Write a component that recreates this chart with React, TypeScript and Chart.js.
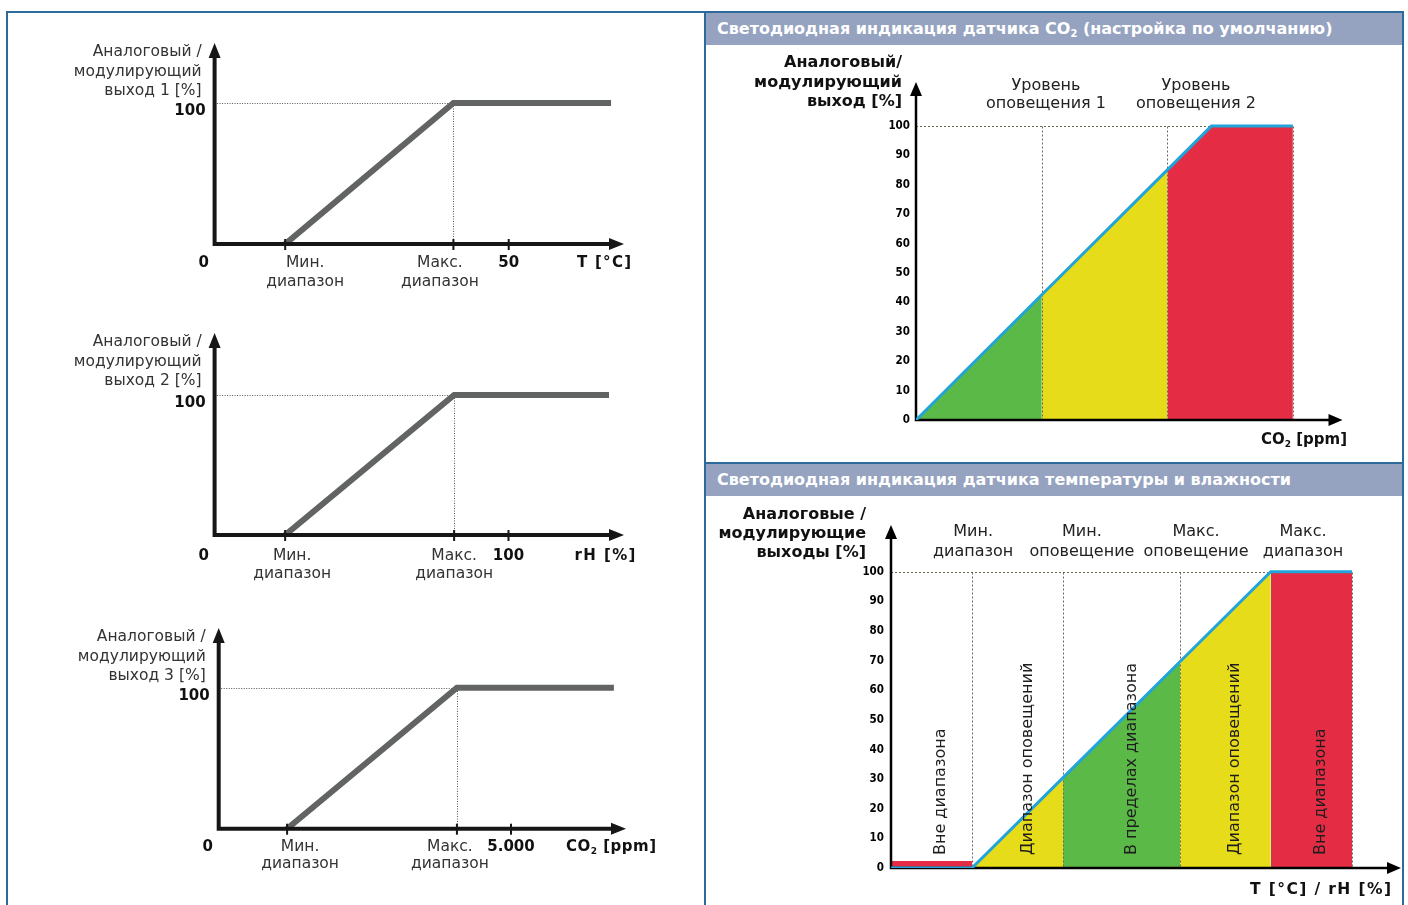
import React, { useEffect, useRef } from "react";
import { Chart, registerables } from "chart.js";

Chart.register(...registerables);

const SANS = '"DejaVu Sans", Verdana, sans-serif';
const COND = '"DejaVu Sans Condensed", "DejaVu Sans", sans-serif';

// ---------------- data ----------------
// Left column: analog / modulating outputs (min range, max range, end of line)
const OUTPUT_PERCENT = [0, 100, 100];
const T_POINTS = [12, 40.6, 67.4]; // °C
const RH_POINTS = [24, 81.5, 134.2]; // % rH
const CO2_POINTS = [1170, 4075, 6760]; // ppm
const T_SCALE_TICK = 50;
const RH_SCALE_TICK = 100;
const CO2_SCALE_TICK = 5000;
const OUTPUT_TITLES = [
  ["Аналоговый /", "модулирующий", "выход 1 [%]"],
  ["Аналоговый /", "модулирующий", "выход 2 [%]"],
  ["Аналоговый /", "модулирующий", "выход 3 [%]"],
];
const RANGE_LABELS = [
  ["Мин.", "диапазон"],
  ["Макс.", "диапазон"],
];

// Right top: CO2 LED indication (x: share of range, y: output %)
const CO2_LED_X = [0, 42.6, 85.1, 100, 127.6];
const CO2_LED_Y = [0, 42.6, 85.1, 100, 100];
const CO2_LED_ZONES = [
  [0, 1],
  [1, 2],
  [2, 4],
];
const CO2_LED_LEVEL_LABELS = [
  ["Уровень", "оповещения 1"],
  ["Уровень", "оповещения 2"],
];
const CO2_LED_LEVEL_AT = [44, 94.8];

// Right bottom: T / rH LED indication
const TH_LED_X = [0, 27.1, 57.6, 96.8, 127.1, 154.3];
const TH_LED_Y = [0, 0, 30.5, 69.7, 100, 100];
const TH_OUT_OF_RANGE_LEVEL = 2.4;
const TH_LED_ZONES = [
  [0, 1],
  [1, 2],
  [2, 3],
  [3, 4],
  [4, 5],
];
const TH_ZONE_LABELS = [
  "Вне диапазона",
  "Диапазон оповещений",
  "В пределах диапазона",
  "Диапазон оповещений",
  "Вне диапазона",
];
const TH_TOP_LABELS = [
  ["Мин.", "диапазон"],
  ["Мин.", "оповещение"],
  ["Макс.", "оповещение"],
  ["Макс.", "диапазон"],
];
const TH_TOP_AT = [27.5, 63.9, 102.1, 137.9];
const Y_TICK_STEP = 10;

// ---------------- styles ----------------
const GREEN = "#5bb947";
const YELLOW = "#e7dc19";
const RED = "#e42c45";
const BLUE = "#20a4da";
const LINE_GRAY = "#626363";
const FRAME = "#2c6a9c";
const HEADER_BG = "#95a3c1";
const GUIDE = "#6f6650";

type Box = { left: number; top: number; width: number; height: number };

// ---------- text helper (supports "_2" subscript) ----------
function drawRich(
  ctx: CanvasRenderingContext2D,
  text: string,
  x: number,
  y: number,
  size: number,
  opts: { bold?: boolean; align?: "left" | "center" | "right"; color?: string; family?: string; spacing?: number } = {}
) {
  const family = opts.family || SANS;
  const w = opts.bold ? "bold " : "";
  const segs: { t: string; sub?: boolean }[] = [];
  let buf = "";
  for (let i = 0; i < text.length; i++) {
    if (text[i] === "_" && i + 1 < text.length) {
      if (buf) segs.push({ t: buf });
      buf = "";
      segs.push({ t: text[i + 1], sub: true });
      i++;
    } else buf += text[i];
  }
  if (buf) segs.push({ t: buf });
  const mainFont = `${w}${size}px ${family}`;
  const subFont = `${w}${Math.round(size * 0.62)}px ${family}`;
  ctx.save();
  (ctx as any).letterSpacing = `${opts.spacing || 0}px`;
  let total = 0;
  const widths = segs.map((s) => {
    ctx.font = s.sub ? subFont : mainFont;
    const m = ctx.measureText(s.t).width;
    total += m;
    return m;
  });
  if (opts.spacing) total -= opts.spacing;
  let sx = opts.align === "center" ? x - total / 2 : opts.align === "right" ? x - total : x;
  ctx.fillStyle = opts.color || "#222";
  ctx.textAlign = "left";
  ctx.textBaseline = "middle";
  segs.forEach((s, i) => {
    ctx.font = s.sub ? subFont : mainFont;
    ctx.fillText(s.t, sx, s.sub ? y + size * 0.32 : y);
    sx += widths[i];
  });
  ctx.restore();
}

function drawAxes(
  ctx: CanvasRenderingContext2D,
  x0: number,
  y0: number,
  xTip: number,
  yTip: number,
  lw: number,
  headW: number,
  headL: number,
  color: string
) {
  ctx.save();
  ctx.strokeStyle = color;
  ctx.fillStyle = color;
  ctx.lineWidth = lw;
  ctx.lineCap = "butt";
  ctx.beginPath();
  ctx.moveTo(x0, y0 + lw / 2);
  ctx.lineTo(x0, yTip + headL - 1);
  ctx.moveTo(x0 - lw / 2, y0);
  ctx.lineTo(xTip - headL + 1, y0);
  ctx.stroke();
  ctx.beginPath();
  ctx.moveTo(x0, yTip);
  ctx.lineTo(x0 - headW / 2, yTip + headL);
  ctx.lineTo(x0 + headW / 2, yTip + headL);
  ctx.closePath();
  ctx.fill();
  ctx.beginPath();
  ctx.moveTo(xTip, y0);
  ctx.lineTo(xTip - headL, y0 - headW / 2);
  ctx.lineTo(xTip - headL, y0 + headW / 2);
  ctx.closePath();
  ctx.fill();
  ctx.restore();
}

// ---------------- left charts ----------------
interface LeftSpec {
  box: Box;
  axisX: number;
  axisY: number;
  tipX: number;
  tipY: number;
  xMax: number;
  yMax: number;
  points: number[];
  scaleTick: number;
  scaleLabel: string;
  unit: string;
  unitSpacing: number;
  title: string[];
  labelDx: number[];
  labelDy: number[];
  unitDx: number;
}

const LEFT_SPECS: LeftSpec[] = [
  {
    box: { left: 0, top: 0, width: 704, height: 300 },
    axisX: 214.6, axisY: 244, tipX: 624, tipY: 43, xMax: 69.6, yMax: 142.6,
    points: T_POINTS, scaleTick: T_SCALE_TICK, scaleLabel: "50", unit: "T [°C]", unitSpacing: 1.3,
    title: OUTPUT_TITLES[0], labelDx: [20, -13.5], labelDy: [19, 38], unitDx: -20,
  },
  {
    box: { left: 0, top: 300, width: 704, height: 300 },
    axisX: 214.6, axisY: 535, tipX: 624, tipY: 333, xMax: 139.3, yMax: 144.3,
    points: RH_POINTS, scaleTick: RH_SCALE_TICK, scaleLabel: "100", unit: "rH [%]", unitSpacing: 1.4,
    title: OUTPUT_TITLES[1], labelDx: [7, 0], labelDy: [21, 39], unitDx: -19,
  },
  {
    box: { left: 0, top: 600, width: 704, height: 305 },
    axisX: 218.7, axisY: 828.7, tipX: 626, tipY: 628, xMax: 6967, yMax: 142.3,
    points: CO2_POINTS, scaleTick: CO2_SCALE_TICK, scaleLabel: "5.000", unit: "CO_2 [ppm]", unitSpacing: 0.5,
    title: OUTPUT_TITLES[2], labelDx: [13, -7], labelDy: [18, 35], unitDx: -15,
  },
];

function makeLeftChart(canvas: HTMLCanvasElement, s: LeftSpec) {
  const plugin = {
    id: "leftDecor",
    beforeDatasetsDraw(chart: any) {
      const { ctx } = chart;
      const x = chart.scales.x;
      const y = chart.scales.y;
      const xm = Math.round(x.getPixelForValue(s.points[1])) + 0.5;
      const y100 = Math.round(y.getPixelForValue(100)) + 0.5;
      ctx.save();
      ctx.strokeStyle = "#555";
      ctx.lineWidth = 1;
      ctx.setLineDash([1, 1.5]);
      ctx.beginPath();
      ctx.moveTo(x.getPixelForValue(0), y100);
      ctx.lineTo(xm, y100);
      ctx.moveTo(xm, y100);
      ctx.lineTo(xm, y.getPixelForValue(0));
      ctx.stroke();
      ctx.restore();
    },
    afterDatasetsDraw(chart: any) {
      const { ctx } = chart;
      const x = chart.scales.x;
      const y = chart.scales.y;
      const x0 = x.getPixelForValue(0);
      const y0 = y.getPixelForValue(0);
      drawAxes(ctx, x0, y0, x.getPixelForValue(s.xMax), y.getPixelForValue(s.yMax), 4, 12, 15, "#161616");
      // tick marks
      ctx.save();
      ctx.fillStyle = "#161616";
      [s.points[0], s.points[1], s.scaleTick].forEach((v) => {
        const px = x.getPixelForValue(v);
        ctx.fillRect(px - 1, y0 - 5, 2, 11);
      });
      ctx.restore();
      // y title
      s.title.forEach((t, i) => {
        drawRich(ctx, t, x0 - 13, y.getPixelForValue(s.yMax) + 9 + i * 19.5, 15.5, { align: "right", color: "#333" });
      });
      drawRich(ctx, "100", x0 - 9, y.getPixelForValue(100) + 8, 15, { bold: true, align: "right", color: "#111" });
      drawRich(ctx, "0", x0 - 11, y0 + s.labelDy[0], 15, { bold: true, align: "center", color: "#111" });
      // range labels
      [0, 1].forEach((k) => {
        const cx = x.getPixelForValue(s.points[k]) + s.labelDx[k];
        RANGE_LABELS[k].forEach((t, j) => {
          drawRich(ctx, t, cx, y0 + s.labelDy[j], 15.5, { align: "center", color: "#333" });
        });
      });
      drawRich(ctx, s.scaleLabel, x.getPixelForValue(s.scaleTick), y0 + s.labelDy[0], 15, {
        bold: true,
        align: "center",
        color: "#111",
      });
      drawRich(ctx, s.unit, x.getPixelForValue(s.xMax) + s.unitDx, y0 + s.labelDy[0], 15, {
        bold: true,
        align: "center",
        color: "#111",
        spacing: s.unitSpacing,
      });
    },
  };
  return new Chart(canvas, {
    type: "line",
    data: {
      datasets: [
        {
          data: s.points.map((v, i) => ({ x: v, y: OUTPUT_PERCENT[i] })),
          borderColor: LINE_GRAY,
          borderWidth: 6,
          pointRadius: 0,
          fill: false,
          tension: 0,
          borderCapStyle: "butt",
          borderJoinStyle: "miter",
        },
      ],
    },
    options: {
      responsive: false,
      animation: false,
      events: [],
      layout: {
        padding: {
          left: s.axisX - s.box.left,
          right: s.box.left + s.box.width - s.tipX,
          top: s.tipY - s.box.top,
          bottom: s.box.top + s.box.height - s.axisY,
        },
      },
      plugins: { legend: { display: false }, tooltip: { enabled: false } },
      scales: {
        x: { type: "linear", min: 0, max: s.xMax, display: false },
        y: { type: "linear", min: 0, max: s.yMax, display: false },
      },
    },
    plugins: [plugin],
  } as any);
}

// ---------------- right charts ----------------
interface RightSpec {
  box: Box;
  axisX: number;
  axisY: number;
  tipX: number;
  tipY: number;
  xMax: number;
  yMax: number;
  lineX: number[];
  lineY: number[];
  zones: { pts: { x: number; y: number }[]; color: string }[];
  guides: number[];
  tickPad: number;
  yTitle: string[];
  yTitleDx: number;
  yTitleDy: number[];
  topLabels: string[][];
  topAt: number[];
  topDy: number[];
  xTitle: string;
  xTitleDx: number;
  xTitleDy: number;
  xTitleSize: number;
  xTitleSpacing: number;
  zoneLabels?: string[];
}

const CO2_ZONE_COLORS = [GREEN, YELLOW, RED];
const TH_ZONE_COLORS = [RED, YELLOW, GREEN, YELLOW, RED];

const RIGHT_SPECS: RightSpec[] = [
  {
    box: { left: 706, top: 46, width: 696, height: 416 },
    axisX: 916, axisY: 420, tipX: 1342.5, tipY: 82, xMax: 144.4, yMax: 115,
    lineX: CO2_LED_X, lineY: CO2_LED_Y,
    zones: CO2_LED_ZONES.map(([a, b], i) => ({
      pts: CO2_LED_X.slice(a, b + 1).map((v, k) => ({ x: v, y: CO2_LED_Y[a + k] })),
      color: CO2_ZONE_COLORS[i],
    })),
    guides: [CO2_LED_X[1], CO2_LED_X[2], CO2_LED_X[4]],
    tickPad: 6,
    yTitle: ["Аналоговый/", "модулирующий", "выход [%]"], yTitleDx: -14, yTitleDy: [-19, 1, 20],
    topLabels: CO2_LED_LEVEL_LABELS, topAt: CO2_LED_LEVEL_AT, topDy: [4, 22],
    xTitle: "CO_2 [ppm]", xTitleDx: 4.5, xTitleDy: 20, xTitleSize: 15, xTitleSpacing: 0,
  },
  {
    box: { left: 706, top: 497, width: 696, height: 408 },
    axisX: 891, axisY: 868, tipX: 1401, tipY: 525, xMax: 170.7, yMax: 115.8,
    lineX: TH_LED_X, lineY: TH_LED_Y,
    zones: TH_LED_ZONES.map(([a, b], i) => ({
      pts:
        i === 0
          ? [
              { x: TH_LED_X[a], y: TH_OUT_OF_RANGE_LEVEL },
              { x: TH_LED_X[b], y: TH_OUT_OF_RANGE_LEVEL },
            ]
          : TH_LED_X.slice(a, b + 1).map((v, k) => ({ x: v, y: TH_LED_Y[a + k] })),
      color: TH_ZONE_COLORS[i],
    })),
    guides: [TH_LED_X[1], TH_LED_X[2], TH_LED_X[3], TH_LED_X[4], TH_LED_X[5]],
    tickPad: 7,
    yTitle: ["Аналоговые /", "модулирующие", "выходы [%]"], yTitleDx: -25, yTitleDy: [-10, 9, 28],
    topLabels: TH_TOP_LABELS, topAt: TH_TOP_AT, topDy: [7, 27],
    xTitle: "T [°C] / rH [%]", xTitleDx: -10, xTitleDy: 22, xTitleSize: 15.5, xTitleSpacing: 1.4,
    zoneLabels: TH_ZONE_LABELS,
  },
];

const Y_SCALE_W = 40;

function makeRightChart(canvas: HTMLCanvasElement, s: RightSpec) {
  const plugin = {
    id: "rightDecor",
    afterDatasetDraw(chart: any, args: any) {
      if (args.index !== 1) return;
      const { ctx } = chart;
      const x = chart.scales.x;
      const y = chart.scales.y;
      const x0 = x.getPixelForValue(0);
      const y0 = y.getPixelForValue(0);
      const y100 = Math.round(y.getPixelForValue(100)) + 0.5;
      ctx.save();
      ctx.strokeStyle = GUIDE;
      ctx.lineWidth = 1;
      ctx.setLineDash([2, 2]);
      ctx.beginPath();
      ctx.moveTo(x0, y100);
      ctx.lineTo(x.getPixelForValue(s.guides[s.guides.length - 1]), y100);
      s.guides.forEach((g) => {
        const gx = Math.round(x.getPixelForValue(g)) + 0.5;
        ctx.moveTo(gx, y100);
        ctx.lineTo(gx, y0);
      });
      ctx.stroke();
      ctx.restore();
      drawAxes(ctx, x0, y0, x.getPixelForValue(s.xMax), y.getPixelForValue(s.yMax), 2.5, 12, 14, "#000");
    },
    afterDraw(chart: any) {
      const { ctx } = chart;
      const x = chart.scales.x;
      const y = chart.scales.y;
      const x0 = x.getPixelForValue(0);
      const y0 = y.getPixelForValue(0);
      const yTip = y.getPixelForValue(s.yMax);
      s.yTitle.forEach((t, i) => {
        drawRich(ctx, t, x0 + s.yTitleDx, yTip + s.yTitleDy[i], 16, { bold: true, align: "right", color: "#111" });
      });
      s.topLabels.forEach((lines, i) => {
        const cx = x.getPixelForValue(s.topAt[i]);
        lines.forEach((t, j) => {
          drawRich(ctx, t, cx, yTip + s.topDy[j], 16, { align: "center", color: "#222" });
        });
      });
      drawRich(ctx, s.xTitle, x.getPixelForValue(s.xMax) + s.xTitleDx, y0 + s.xTitleDy, s.xTitleSize, {
        bold: true,
        align: "right",
        color: "#111",
        spacing: s.xTitleSpacing,
      });
      if (s.zoneLabels) {
        ctx.save();
        ctx.fillStyle = "#1e1e1e";
        ctx.font = `16px ${SANS}`;
        ctx.textAlign = "left";
        ctx.textBaseline = "alphabetic";
        s.zoneLabels.forEach((t, i) => {
          const [a, b] = TH_LED_ZONES[i];
          const cx = (x.getPixelForValue(TH_LED_X[a]) + x.getPixelForValue(TH_LED_X[b])) / 2 + 14;
          ctx.save();
          ctx.translate(cx, y0 - 13);
          ctx.rotate(-Math.PI / 2);
          ctx.fillText(t, 0, 0);
          ctx.restore();
        });
        ctx.restore();
      }
    },
  };

  const datasets: any[] = [
    {
      data: s.lineX.map((v, i) => ({ x: v, y: s.lineY[i] })),
      borderColor: BLUE,
      borderWidth: 3,
      pointRadius: 0,
      fill: false,
      tension: 0,
      borderJoinStyle: "miter",
    },
  ];
  s.zones.forEach((z) => {
    datasets.push({
      data: z.pts,
      borderWidth: 0,
      borderColor: z.color,
      backgroundColor: z.color,
      pointRadius: 0,
      fill: "origin",
      tension: 0,
    });
  });

  return new Chart(canvas, {
    type: "line",
    data: { datasets },
    options: {
      responsive: false,
      animation: false,
      events: [],
      layout: {
        padding: {
          left: s.axisX - s.box.left - Y_SCALE_W,
          right: s.box.left + s.box.width - s.tipX,
          top: s.tipY - s.box.top,
          bottom: s.box.top + s.box.height - s.axisY,
        },
      },
      plugins: { legend: { display: false }, tooltip: { enabled: false } },
      scales: {
        x: { type: "linear", min: 0, max: s.xMax, display: false },
        y: {
          type: "linear",
          min: 0,
          max: s.yMax,
          grid: { display: false, drawTicks: false },
          border: { display: false },
          ticks: {
            stepSize: Y_TICK_STEP,
            padding: s.tickPad,
            color: "#000",
            font: { family: COND, size: 11.5, weight: "bold" },
          },
          afterBuildTicks: (sc: any) => {
            sc.ticks = sc.ticks.filter((t: any) => t.value <= 100);
          },
          afterFit: (sc: any) => {
            sc.width = Y_SCALE_W;
          },
        },
      },
    },
    plugins: [plugin],
  } as any);
}

// ---------------- components ----------------
function ChartCanvas({ box, make }: { box: Box; make: (c: HTMLCanvasElement) => Chart }) {
  const ref = useRef<HTMLCanvasElement>(null);
  useEffect(() => {
    const chart = make(ref.current!);
    return () => chart.destroy();
  }, []);
  return (
    <canvas
      ref={ref}
      width={box.width}
      height={box.height}
      style={{ position: "absolute", left: box.left, top: box.top, width: box.width, height: box.height }}
    />
  );
}

const headerStyle: React.CSSProperties = {
  position: "absolute",
  left: 706,
  width: 696,
  height: 32,
  background: HEADER_BG,
  color: "#fff",
  font: `bold 16px ${SANS}`,
  lineHeight: "32px",
  paddingLeft: 11,
  boxSizing: "border-box",
  whiteSpace: "nowrap",
};

export default function App() {
  return (
    <div
      style={{
        position: "absolute",
        left: 0,
        top: 0,
        width: 1408,
        height: 905,
        overflow: "hidden",
        background: "#fff",
      }}
    >
      {/* frames */}
      <div style={{ position: "absolute", left: 6, top: 11, width: 2, height: 900, background: FRAME }} />
      <div style={{ position: "absolute", left: 6, top: 11, width: 1398, height: 2, background: FRAME }} />
      <div style={{ position: "absolute", left: 704, top: 11, width: 2, height: 900, background: FRAME }} />
      <div style={{ position: "absolute", left: 1402, top: 11, width: 2, height: 900, background: FRAME }} />
      <div style={{ position: "absolute", left: 704, top: 462, width: 700, height: 2, background: FRAME }} />
      <div style={{ ...headerStyle, top: 13 }}>
        Светодиодная индикация датчика CO
        <span style={{ fontSize: "0.62em", verticalAlign: "-0.35em", lineHeight: 0 }}>2</span> (настройка по умолчанию)
      </div>
      <div style={{ ...headerStyle, top: 464 }}>Светодиодная индикация датчика температуры и влажности</div>

      {LEFT_SPECS.map((s, i) => (
        <ChartCanvas key={"l" + i} box={s.box} make={(c) => makeLeftChart(c, s)} />
      ))}
      {RIGHT_SPECS.map((s, i) => (
        <ChartCanvas key={"r" + i} box={s.box} make={(c) => makeRightChart(c, s)} />
      ))}
    </div>
  );
}
